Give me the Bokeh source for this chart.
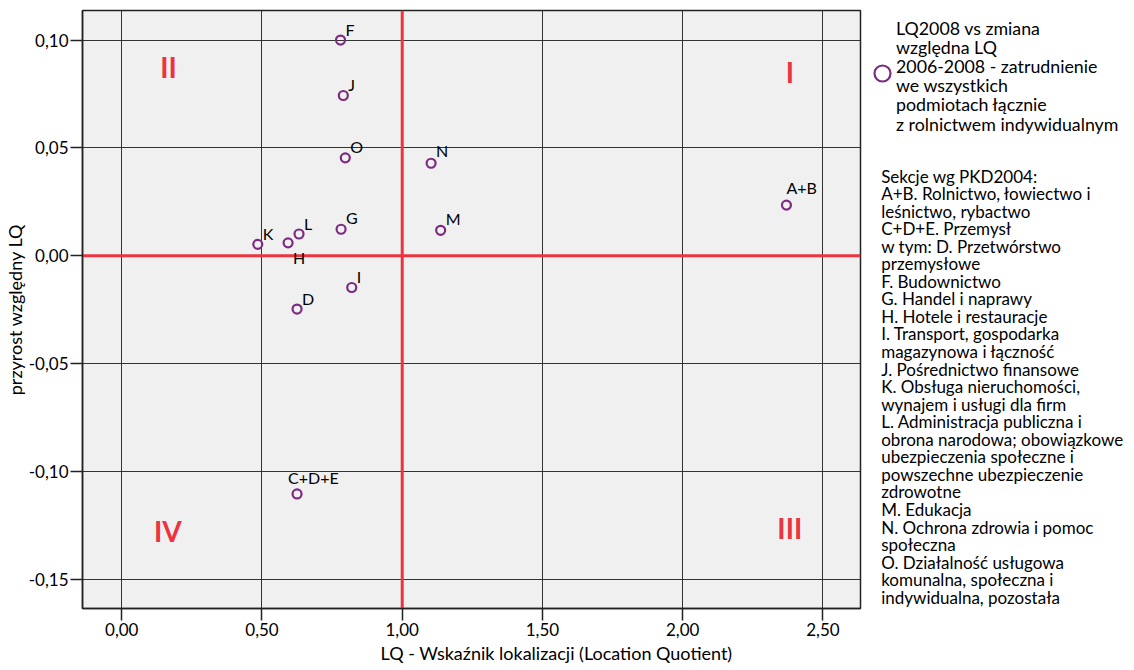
from bokeh.plotting import figure
from bokeh.models import (ColumnDataSource, LabelSet, Title, Span, FixedTicker,
                          CustomJSTickFormatter, Range1d)
from bokeh.layouts import row
from bokeh.embed import file_html
from bokeh.resources import INLINE
from bokeh.core.properties import value

# ---------------- data ----------------
labels = ["A+B", "C+D+E", "D", "F", "G", "H", "I", "J", "K", "L", "M", "N", "O"]
lq2008 = [2.370, 0.625, 0.625, 0.780, 0.782, 0.593, 0.820, 0.790, 0.485, 0.632, 1.137, 1.103, 0.797]
zmiana_lq = [0.0235, -0.1104, -0.0247, 0.1000, 0.0123, 0.0060, -0.0147, 0.0743, 0.0053, 0.0101, 0.0118, 0.0429, 0.0454]

x_ticks = [0.0, 0.5, 1.0, 1.5, 2.0, 2.5]
y_ticks = [-0.15, -0.10, -0.05, 0.0, 0.05, 0.10]
ref_x = 1.0
ref_y = 0.0

quadrant_names = ["I", "II", "III", "IV"]
quadrant_x = [2.382, 0.167, 2.382, 0.164]
quadrant_y = [0.0853, 0.0876, -0.126, -0.1278]

x_title = "LQ - Wskaźnik lokalizacji (Location Quotient)"
y_title = "przyrost względny LQ"

legend_title_lines = ["LQ2008 vs zmiana", "względna LQ", "2006-2008 - zatrudnienie",
                      "we wszystkich", "podmiotach łącznie", "z rolnictwem indywidualnym"]
section_lines = ["Sekcje wg PKD2004:", "A+B. Rolnictwo, łowiectwo i", "leśnictwo, rybactwo",
                 "C+D+E. Przemysł", "w tym: D. Przetwórstwo", "przemysłowe", "F. Budownictwo",
                 "G. Handel i naprawy", "H. Hotele i restauracje", "I. Transport, gospodarka",
                 "magazynowa i łączność", "J. Pośrednictwo finansowe", "K. Obsługa nieruchomości,",
                 "wynajem i usługi dla firm", "L. Administracja publiczna i",
                 "obrona narodowa; obowiązkowe", "ubezpieczenia społeczne i",
                 "powszechne ubezpieczenie", "zdrowotne", "M. Edukacja",
                 "N. Ochrona zdrowia i pomoc", "społeczna", "O. Działalność usługowa",
                 "komunalna, społeczna i", "indywidualna, pozostała"]

# ---------------- styling ----------------
FONT = "Lato"
PURPLE = "#7d2a82"
RED = "#ee3340"
# label placement in screen px (dx right, dy up)
label_offsets = {"A+B": (0, 11), "C+D+E": (-9, 10), "H": (5, -21), "N": (5, 6),
                 "O": (5, 5), "G": (5, 5), "M": (5, 5)}
default_offset = (5, 4)

W_MAIN, H = 862, 670
W_LEG = 1134 - W_MAIN
FRAME_TOP, FRAME_BOTTOM = 10, 62   # borders (px)

p = figure(width=W_MAIN, height=H, output_backend="svg", toolbar_location=None, tools="",
           x_range=Range1d(-0.140, 2.634), y_range=Range1d(-0.1635, 0.1137),
           min_border_left=80, min_border_right=2,
           min_border_top=FRAME_TOP, min_border_bottom=FRAME_BOTTOM)
p.background_fill_color = "#f0f0f0"
p.border_fill_color = "white"
p.outline_line_color = "#222222"
p.outline_line_width = 1.5

for ax in (p.xaxis[0], p.yaxis[0]):
    ax.major_label_text_font = FONT
    ax.major_label_text_font_size = "17px"
    ax.major_label_text_color = "black"
    ax.axis_label_text_font = FONT
    ax.axis_label_text_font_size = "18px"
    ax.axis_label_text_font_style = "normal"
    ax.axis_label_text_color = "black"
    ax.major_tick_out = 12
    ax.major_tick_in = 0
    ax.minor_tick_line_color = None
    ax.axis_line_color = "#222222"
    ax.axis_line_width = 1.5
    ax.major_tick_line_color = "#222222"
    ax.major_tick_line_width = 1.5
    ax.major_label_standoff = 2
    ax.formatter = CustomJSTickFormatter(code="return tick.toFixed(2).replace('.', ',');")

p.yaxis[0].axis_label_standoff = 0
p.xaxis[0].ticker = FixedTicker(ticks=x_ticks)
p.yaxis[0].ticker = FixedTicker(ticks=y_ticks)
p.yaxis[0].axis_label = y_title

# x-axis title: placed under chart + legend centre, as in the original
p.add_layout(Title(text=x_title, align="left", offset=298, standoff=2,
                   text_font=FONT, text_font_size="18px", text_font_style="normal",
                   text_color="black"), "below")

p.xgrid.grid_line_color = "#333333"
p.ygrid.grid_line_color = "#333333"
p.xgrid.grid_line_width = 1
p.ygrid.grid_line_width = 1

p.add_layout(Span(location=ref_x, dimension="height", line_color=RED, line_width=3, level="underlay"))
p.add_layout(Span(location=ref_y, dimension="width", line_color=RED, line_width=3, level="underlay"))

dx = [label_offsets.get(l, default_offset)[0] for l in labels]
dy = [label_offsets.get(l, default_offset)[1] for l in labels]
src = ColumnDataSource(dict(x=lq2008, y=zmiana_lq, label=labels, dx=dx, dy=dy))

p.scatter("x", "y", source=src, size=9, fill_color=None, line_color=PURPLE, line_width=2.2)
p.add_layout(LabelSet(x="x", y="y", text="label", source=src, x_offset="dx", y_offset="dy",
                      text_font=value(FONT), text_font_size="16px", text_color="black",
                      text_baseline="alphabetic", text_align="left"))

qsrc = ColumnDataSource(dict(x=quadrant_x, y=quadrant_y, t=quadrant_names))
p.text("x", "y", text="t", source=qsrc, text_font=value(FONT), text_font_size="28px",
       text_font_style="bold", text_color=RED, text_align="center", text_baseline="middle")

# ---------------- legend panel (data units = page pixels) ----------------
leg = figure(width=W_LEG, height=H, output_backend="svg", toolbar_location=None, tools="",
             x_range=Range1d(0, W_LEG), y_range=Range1d(H - FRAME_BOTTOM, FRAME_TOP),
             x_axis_type=None, y_axis_type=None, min_border_left=0, min_border_right=0,
             min_border_top=FRAME_TOP, min_border_bottom=FRAME_BOTTOM)
leg.outline_line_color = None
leg.background_fill_color = "white"
leg.border_fill_color = "white"
leg.grid.visible = False

leg.scatter([20], [73], size=16, fill_color=None, line_color=PURPLE, line_width=2.2)
title_src = ColumnDataSource(dict(
    x=[33.5] * len(legend_title_lines),
    y=[27 + 19.2 * i for i in range(len(legend_title_lines))],
    t=legend_title_lines))
leg.add_layout(LabelSet(x="x", y="y", text="t", source=title_src, text_font=value(FONT),
                        text_font_size="17.8px", text_color="black", text_align="left",
                        text_baseline="middle"))
sec_src = ColumnDataSource(dict(
    x=[18.7] * len(section_lines),
    y=[175.5 + 17.55 * i for i in range(len(section_lines))],
    t=section_lines))
leg.add_layout(LabelSet(x="x", y="y", text="t", source=sec_src, text_font=value(FONT),
                        text_font_size="17px", text_color="black", text_align="left",
                        text_baseline="middle"))

layout = row(p, leg)
open("out.html", "w").write(file_html(layout, INLINE))
